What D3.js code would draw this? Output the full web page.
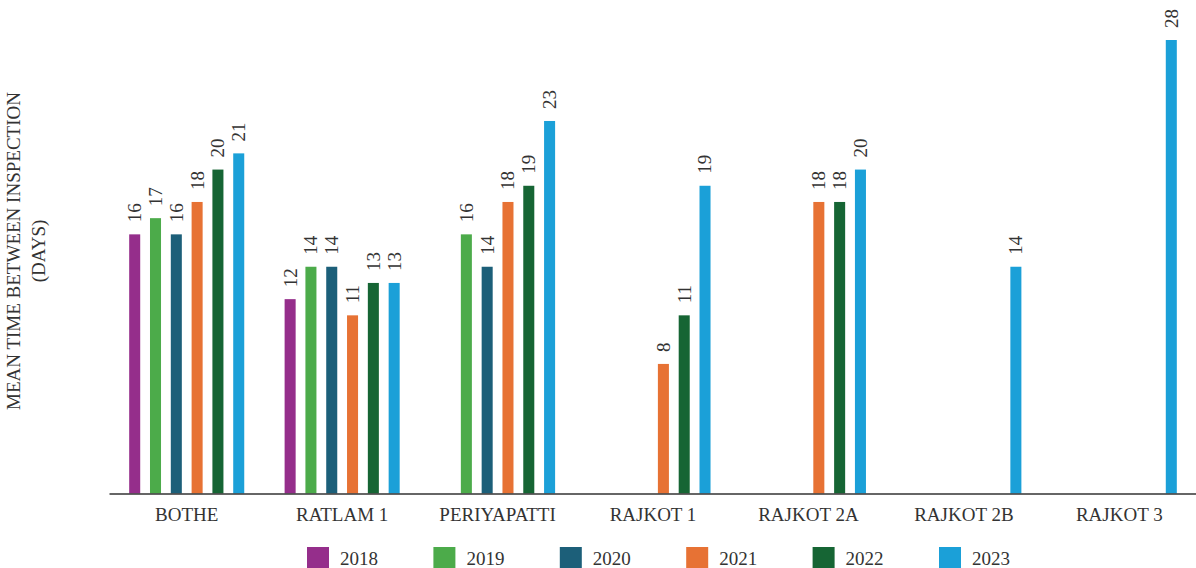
<!DOCTYPE html>
<html>
<head>
<meta charset="utf-8">
<script src="https://cdn.jsdelivr.net/npm/d3@7"></script>
<style>
  html, body { margin: 0; padding: 0; background: #fff; }
  svg { display: block; font-family: "Liberation Serif", "Times New Roman", serif; }
</style>
</head>
<body>
<svg id="chart" width="1196" height="568"></svg>
<script>
// Sites and inspection years
const sites = ["BOTHE", "RATLAM 1", "PERIYAPATTI", "RAJKOT 1", "RAJKOT 2A", "RAJKOT 2B", "RAJKOT 3"];
const years = ["2018", "2019", "2020", "2021", "2022", "2023"];

// Mean time between inspection (days) per year, one entry per site (null = no data)
const v2018 = [16, 12, null, null, null, null, null];
const v2019 = [17, 14, 16, null, null, null, null];
const v2020 = [16, 14, 14, null, null, null, null];
const v2021 = [18, 11, 18, 8, 18, null, null];
const v2022 = [20, 13, 19, 11, 18, null, null];
const v2023 = [21, 13, 23, 19, 20, 14, 28];

const yearColors = ["#952e8b", "#4cab4a", "#1c5f79", "#e77234", "#166534", "#1ba0d8"];
const yAxisTitle = ["MEAN TIME BETWEEN INSPECTION", "(DAYS)"];

const series = [v2018, v2019, v2020, v2021, v2022, v2023];
const rows = [];
sites.forEach((s, i) => {
  years.forEach((y, j) => {
    const v = series[j][i];
    if (v !== null) rows.push({ site: s, year: y, value: v });
  });
});

const svg = d3.select("#chart");
const left = 109, right = 1197, baseY = 493.5, topY = 40;

const x0 = d3.scaleBand().domain(sites).range([left, right]).padding(0);
const x1 = d3.scaleBand().domain(years).range([0, x0.bandwidth()])
  .paddingInner(0.47).paddingOuter(0.97);
const y = d3.scaleLinear().domain([0, 28]).range([baseY, topY]);
const color = d3.scaleOrdinal().domain(years).range(yearColors);

// Bars
svg.append("g").selectAll("rect").data(rows).join("rect")
  .attr("x", d => x0(d.site) + x1(d.year))
  .attr("y", d => y(d.value))
  .attr("width", x1.bandwidth())
  .attr("height", d => y(0) - y(d.value))
  .attr("fill", d => color(d.year));

// Value labels, rotated above each bar
svg.append("g").selectAll("text").data(rows).join("text")
  .attr("transform", d => `translate(${x0(d.site) + x1(d.year) + x1.bandwidth() / 2},${y(d.value) - 12}) rotate(-90)`)
  .attr("dy", "0.34em")
  .attr("text-anchor", "start")
  .attr("font-size", 19)
  .attr("fill", "#333")
  .text(d => d.value);

// Category axis
const xAxis = svg.append("g")
  .attr("transform", `translate(0,${baseY})`)
  .call(d3.axisBottom(x0).tickSize(0).tickPadding(14));
xAxis.select(".domain").attr("stroke", "#333").attr("stroke-width", 1.6);
xAxis.selectAll("text")
  .attr("font-family", "Liberation Serif, Times New Roman, serif")
  .attr("font-size", 19)
  .attr("fill", "#333");

// Y axis title
const yt = svg.append("text")
  .attr("transform", "translate(20,251) rotate(-90)")
  .attr("text-anchor", "middle")
  .attr("font-size", 19)
  .attr("fill", "#333");
yAxisTitle.forEach((t, i) => {
  yt.append("tspan").attr("x", 0).attr("dy", i === 0 ? 0 : 25).text(t);
});

// Legend
const legendX = d3.scaleLinear().domain([0, 5]).range([307, 939]);
const lg = svg.append("g").selectAll("g").data(years).join("g")
  .attr("transform", (d, i) => `translate(${legendX(i)},547)`);
lg.append("rect").attr("width", 22).attr("height", 21).attr("fill", d => color(d));
lg.append("text").attr("x", 33).attr("y", 18)
  .attr("font-size", 19).attr("fill", "#333").text(d => d);
</script>
</body>
</html>
